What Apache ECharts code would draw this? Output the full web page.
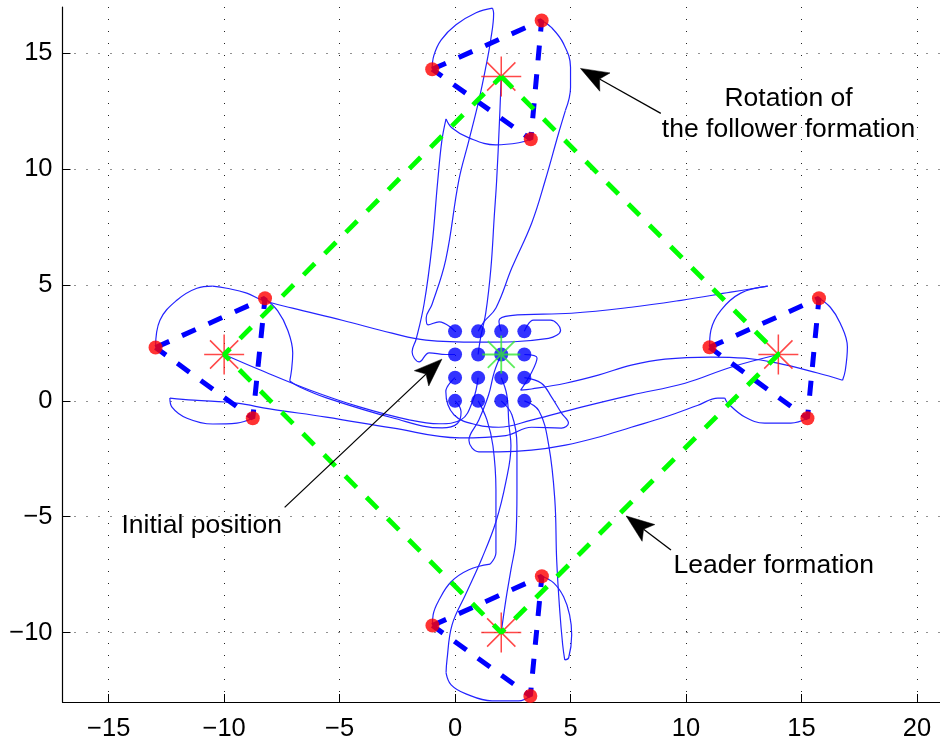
<!DOCTYPE html>
<html>
<head>
<meta charset="utf-8">
<script src="https://cdn.jsdelivr.net/npm/echarts@6/dist/echarts.min.js"></script>
<style>
html, body { margin: 0; padding: 0; background: #fff; }
#chart { width: 940px; height: 745px; }
</style>
</head>
<body>
<div id="chart"></div>
<script>
// tick labels
var xTicks = [-15, -10, -5, 0, 5, 10, 15, 20];
var yTicks = [-10, -5, 0, 5, 10, 15];

// initial positions of the 16 agents
var initialDots = [[0,0],[1,0],[2,0],[3,0],[0,1],[1,1],[2,1],[3,1],[0,2],[1,2],[2,2],[3,2],[0,3],[1,3],[2,3],[3,3]];
var groupCenter = [[2, 2]];

// leader formation (red stars, green dashed square)
var leaderStars = [[2, 14], [14, 2], [2, -10], [-10, 2]];

// follower formations (red dots, blue dashed triangles)
var triTop = [[-0.99, 14.31], [3.75, 16.42], [3.28, 11.29]];
var triRight = [[11.02, 2.31], [15.76, 4.43], [15.26, -0.75]];
var triBottom = [[-0.98, -9.70], [3.76, -7.57], [3.26, -12.74]];
var triLeft = [[-12.97, 2.30], [-8.23, 4.43], [-8.76, -0.75]];

// trajectories
var pathTopLeader = [[1,2],[1.1,2.7],[1.33,3.8],[1.55,5.7],[1.7,8.0],[1.8,9.5],[1.92,12],[2,14]];
var pathTopA = [[0,3],[-0.69,3.41],[-1.17,3.28],[-1.25,3.58],[-1.0,4.16],[-0.4,6.11],[0.16,9.51],[0.6,11.24],[1.03,12.97],[1.33,14.4],[1.54,15.56],[1.67,16.73],[1.62,16.95]];
var arcTopA = [[1.62,16.95],[0.91,16.75],[0.04,16.23],[-0.6,15.58],[-0.92,14.9],[-0.99,14.31]];
var pathTopB = [[1,3],[1.25,3.41],[1.77,4.01],[2.46,5.74],[3.32,7.68],[3.9,9.5],[4.48,11.54],[4.78,12.54]];
var arcTopB = [[4.78,12.54],[5.0,13.53],[5.0,14.4],[4.69,15.43],[4.17,16.12],[3.75,16.42]];
var pathTopC = [[0,2],[-0.39,2],[-1.12,2.07],[-1.55,1.68],[-1.86,2.12],[-1.68,2.68],[-1.34,4.19],[-1.0,6.69],[-0.75,9.5],[-0.57,11.24],[-0.39,12.17]];
var arcTopC = [[-0.39,12.17],[-0.13,11.78],[0.6,11.35],[1.77,11.05],[2.76,11.14],[3.28,11.29]];

var pathBottomLeader = [[2,0],[2.46,-0.6],[2.68,-1.94],[2.68,-3.88],[2.63,-6.0],[2.42,-7.29],[2.2,-8.59],[2,-10]];
var pathBottomA = [[1,0],[1.38,-0.82],[1.64,-1.94],[1.77,-3.84],[1.77,-5.7],[1.77,-6.56],[1.52,-7.05]];
var arcBottomA = [[1.52,-7.05],[0.6,-7.29],[-0.17,-7.81],[-0.69,-8.59],[-0.95,-9.24],[-0.98,-9.70]];
var pathBottomB = [[3,0],[3.63,-0.43],[4.06,-1.94],[4.32,-4.27],[4.4,-6.86],[4.53,-9.02],[4.66,-10.53],[4.75,-11.18]];
var arcBottomB = [[4.75,-11.18],[4.92,-11.09],[5.05,-10.1],[4.96,-9.24],[4.7,-8.46],[4.27,-7.86],[3.76,-7.57]];
var pathBottomC = [[2,1],[2.24,0.26],[2.33,-0.99],[2.42,-1.94],[2.2,-3.5],[1.77,-5.22],[1.17,-6.78],[0.47,-8.33],[-0.13,-9.67],[-0.35,-11.18],[-0.39,-11.74]];
var arcBottomC = [[-0.39,-11.74],[-0.17,-12.26],[0.47,-12.65],[1.6,-12.95],[2.76,-12.95],[3.26,-12.74]];

var pathLeftLeader = [[1,1],[0.78,0.04],[0.26,-0.82],[-0.69,-0.99],[-1.99,-0.82],[-4.14,-0.26],[-6.3,0.47],[-8.46,1.34],[-10,2]];
var pathLeftA = [[3,3],[3.4,3.48],[4.13,3.48],[4.57,3.05],[4.05,2.7],[1.03,2.53],[-1.26,2.62],[-2.73,2.92],[-4.89,3.48],[-7.04,4.0],[-8.33,4.34],[-9.02,4.65],[-9.89,4.86],[-10.5,4.95]];
var arcLeftA = [[-10.5,4.95],[-11.18,4.86],[-12.05,4.34],[-12.78,3.48],[-12.97,2.30]];
var pathLeftB = [[0,0],[0.26,-0.47],[0.09,-0.99],[-0.56,-1.17],[-2.72,-0.73],[-5.57,0.13],[-6.73,0.6],[-7.16,0.86]];
var arcLeftB = [[-7.16,0.86],[-7.08,1.34],[-7.03,2.07],[-7.25,3.06],[-7.68,3.88],[-8.23,4.43]];
var pathLeftC = [[3,1],[3.74,0.76],[4.18,0.16],[4.61,-0.53],[4.91,-0.96],[4.61,-1.18],[3.31,-1.14],[2.2,-1.5],[0.2,-1.6],[-2.73,-1.17],[-5.58,-0.7],[-8.03,-0.35],[-9.45,-0.1],[-11.32,0.03],[-12.35,0.12]];
var arcLeftC = [[-12.35,0.12],[-12.26,-0.27],[-11.61,-0.75],[-10.49,-1.0],[-9.45,-0.96],[-8.76,-0.75]];

var pathRightLeader = [[0,1],[-0.4,0.4],[-0.05,-0.6],[1.0,-1.05],[1.89,-1.14],[3.31,-0.83],[5.47,-0.27],[7.63,0.25],[9.96,0.76],[11.94,1.45],[14,2]];
var pathRightA = [[2,3],[1.9,3.45],[2.4,3.68],[5.04,3.78],[7.63,4.04],[9.79,4.34],[11.94,4.69],[13.54,4.95]];
var arcRightA = [[13.54,4.95],[12.37,4.65],[11.51,3.91],[11.08,3.05],[11.02,2.31]];
var pathRightB = [[3,2],[3.55,1.85],[3.3,1.2],[2.84,0.46],[3.31,0.51],[4.78,0.76],[6.2,1.11],[7.63,1.54],[9.09,1.8],[11.08,1.89],[12.55,1.84],[13.97,1.63],[15.7,1.2],[16.78,0.89]];
var arcRightB = [[16.78,0.89],[16.9,1.32],[16.99,2.32],[16.68,3.35],[16.25,4.04],[15.76,4.43]];
var pathRightC = [[2,2],[1.7,1.25],[1.45,0.25],[1.03,-0.83],[0.6,-1.7],[1.03,-2.2],[1.89,-2.2],[3.31,-2.13],[4.78,-1.91],[6.2,-1.57],[7.63,-1.14],[9.09,-0.7],[10.52,-0.19],[11.38,0.12],[11.68,0.12]];
var arcRightC = [[11.68,0.12],[11.81,-0.1],[12.55,-0.7],[13.41,-0.96],[14.54,-0.96],[15.26,-0.75]];

// annotations
var annotationText = ['Rotation of\nthe follower formation', 'Initial position', 'Leader formation'];
var annotationAt = [[14.44, 12.37], [-10.97, -5.38], [13.8, -7.13]];
var arrowTail = [[8.91, 12.41], [-7.38, -4.6], [9.35, -6.44]];
var arrowTip = [[5.43, 14.35], [-0.57, 1.8], [7.41, -4.97]];

var FONT = '"Liberation Sans", Arial, Helvetica, sans-serif';
var ASTERISK = 'path://M0 20L40 20M20 0L20 40M5.86 5.86L34.14 34.14M34.14 5.86L5.86 34.14';

function tickText(v) {
    return v < 0 ? '\u2212' + Math.abs(v) : String(v);
}
function closed(pts) {
    return pts.concat([pts[0]]);
}

var chart = echarts.init(document.getElementById('chart'), null, { renderer: 'canvas' });

var trajectories = [
    pathTopLeader, pathTopA, arcTopA, pathTopB, arcTopB, pathTopC, arcTopC,
    pathBottomLeader, pathBottomA, arcBottomA, pathBottomB, arcBottomB, pathBottomC, arcBottomC,
    pathLeftLeader, pathLeftA, arcLeftA, pathLeftB, arcLeftB, pathLeftC, arcLeftC,
    pathRightLeader, pathRightA, arcRightA, pathRightB, arcRightB, pathRightC, arcRightC
];

var series = [];
trajectories.forEach(function (t) {
    series.push({
        type: 'line', data: t, smooth: 0.4, symbol: 'none', z: 1, silent: true,
        lineStyle: { color: '#2323ff', width: 1.2 }
    });
});
[triTop, triRight, triBottom, triLeft].forEach(function (t) {
    series.push({
        type: 'line', data: closed(t), symbol: 'none', z: 2, silent: true,
        lineStyle: { color: '#0000ff', width: 5, type: [15, 14], cap: 'butt' }
    });
});
series.push({
    type: 'scatter', data: leaderStars, symbol: ASTERISK, symbolSize: 40, z: 3, silent: true,
    itemStyle: { color: 'rgba(0,0,0,0)', borderColor: '#ff1a1a', borderWidth: 1.5 }
});
series.push({
    type: 'line', data: closed(leaderStars), symbol: 'none', z: 4, silent: true,
    lineStyle: { color: '#00ff00', width: 4.8, type: [16, 14], cap: 'butt' }
});
series.push({
    type: 'scatter', data: triTop.concat(triRight, triBottom, triLeft), symbol: 'circle', symbolSize: 14, z: 5, silent: true,
    itemStyle: { color: '#ff0000' }
});
series.push({
    type: 'scatter', data: initialDots, symbol: 'circle', symbolSize: 14, z: 5, silent: true,
    itemStyle: { color: '#0000ff' }
});
series.push({
    type: 'scatter', data: groupCenter, symbol: ASTERISK, symbolSize: 38, z: 6, silent: true,
    itemStyle: { color: 'rgba(0,0,0,0)', borderColor: '#33e833', borderWidth: 1.8 }
});

var axisCommon = {
    type: 'value',
    axisLine: { show: true, onZero: false, lineStyle: { color: '#000', width: 1.2 } },
    axisLabel: { formatter: tickText, color: '#000', fontSize: 25.5, fontFamily: FONT },
    splitLine: { show: true, lineStyle: { color: '#222', width: 1, type: [1, 11] } }
};

chart.setOption({
    animation: false,
    backgroundColor: '#fff',
    grid: { left: 62.5, top: 7, width: 881, height: 695 },
    xAxis: echarts.util.merge({
        min: -17, max: 21, position: 'bottom',
        axisTick: { show: true, inside: true, length: 8, customValues: xTicks, lineStyle: { color: '#000' } },
        axisLabel: { customValues: xTicks, margin: 14 }
    }, axisCommon),
    yAxis: echarts.util.merge({
        min: -13, max: 17, position: 'left',
        axisTick: { show: true, inside: true, length: 8, customValues: yTicks, lineStyle: { color: '#000' } },
        axisLabel: { customValues: yTicks, margin: 10 }
    }, axisCommon),
    series: series
});

// arrows and annotation texts, placed from data coordinates
var graphics = [];
for (var i = 0; i < arrowTip.length; i++) {
    var p0 = chart.convertToPixel({ gridIndex: 0 }, arrowTail[i]);
    var p1 = chart.convertToPixel({ gridIndex: 0 }, arrowTip[i]);
    var dx = p1[0] - p0[0], dy = p1[1] - p0[1];
    var len = Math.sqrt(dx * dx + dy * dy);
    var ux = dx / len, uy = dy / len;
    var L = 28, W = 10.5;
    var bx = p1[0] - ux * L, by = p1[1] - uy * L;
    var nx = p1[0] - ux * L * 0.78, ny = p1[1] - uy * L * 0.78;
    graphics.push({
        type: 'polyline', z: 100, silent: true,
        shape: { points: [p0, [nx, ny]] },
        style: { stroke: '#000', lineWidth: 1.3, fill: null }
    });
    graphics.push({
        type: 'polygon', z: 100, silent: true,
        shape: { points: [p1, [bx - uy * W, by + ux * W], [nx, ny], [bx + uy * W, by - ux * W]] },
        style: { fill: '#000', stroke: '#000', lineWidth: 0.5 }
    });
}
for (var j = 0; j < annotationText.length; j++) {
    var pt = chart.convertToPixel({ gridIndex: 0 }, annotationAt[j]);
    graphics.push({
        type: 'text', z: 101, silent: true, x: pt[0], y: pt[1],
        style: {
            text: annotationText[j], align: 'center', verticalAlign: 'middle',
            fontSize: 26.5, fontFamily: FONT, fill: '#000', lineHeight: 31
        }
    });
}
chart.setOption({ graphic: graphics });
</script>
</body>
</html>
